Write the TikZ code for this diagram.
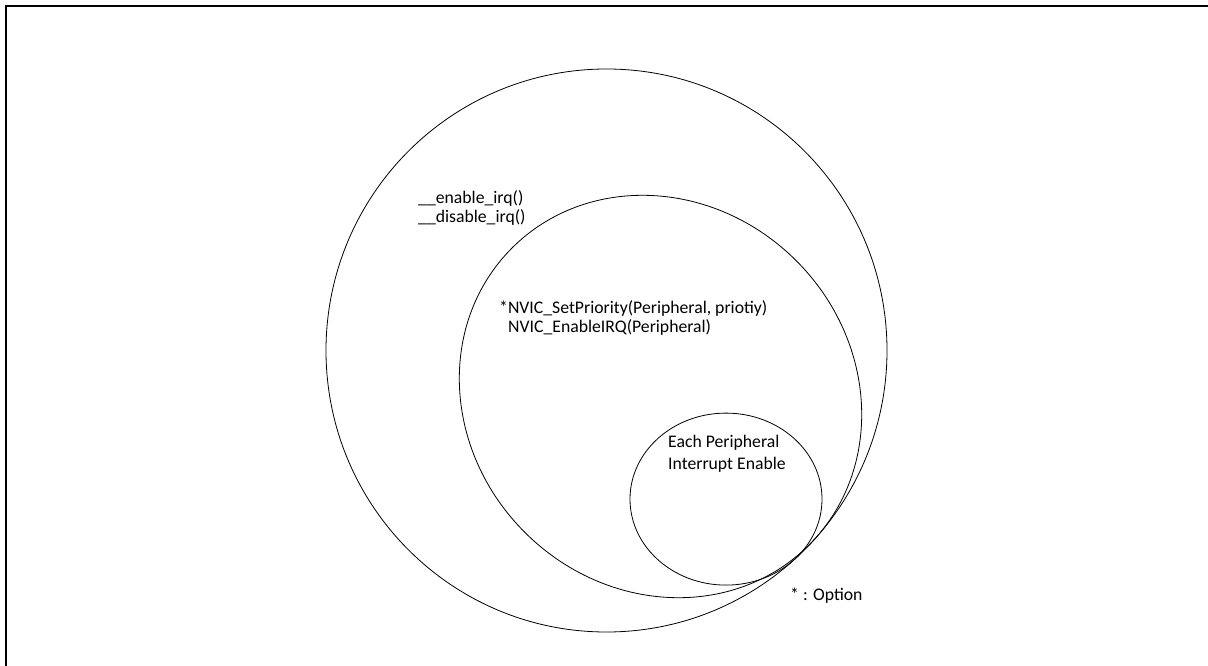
\documentclass[tikz,border=0pt]{standalone}
\usepackage{fontspec}
\setmainfont{Carlito}
\begin{document}
\begin{tikzpicture}[x=1pt,y=-1pt,
  ring/.style={draw=black,line width=0.8pt},
  lbl/.style={inner sep=0pt,font=\fontsize{17.7}{19}\selectfont,align=left},
  lblwide/.style={inner sep=0pt,font=\fontsize{17.7}{22}\selectfont,align=left},
  frame/.style={line width=1.8pt}]
\useasboundingbox (0,0) rectangle (1208,666);
\draw[frame] (6,666) -- (6,6) -- (1208,6);
\draw[ring] (606.5,350.5) ellipse [x radius=280.5, y radius=281.5];
\draw[ring,rotate around={-45:(660.5,396.5)}] (660.5,396.5) ellipse [x radius=210, y radius=192];
\draw[ring] (726,499.1) ellipse [x radius=96, y radius=86];
\node[lbl,anchor=west] (irq) at (418,208) {\_\_enable\_irq()\\\_\_disable\_irq()};
\node[lbl,anchor=west] (nvic) at (499,318) {*NVIC\_SetPriority(Peripheral, priotiy)\\\hspace*{9pt}NVIC\_EnableIRQ(Peripheral)};
\node[lblwide,anchor=west] (each) at (668,454) {Each Peripheral\\Interrupt Enable};
\node[lbl,anchor=west] (opt) at (790,596) {* : Option};
\end{tikzpicture}
\end{document}
